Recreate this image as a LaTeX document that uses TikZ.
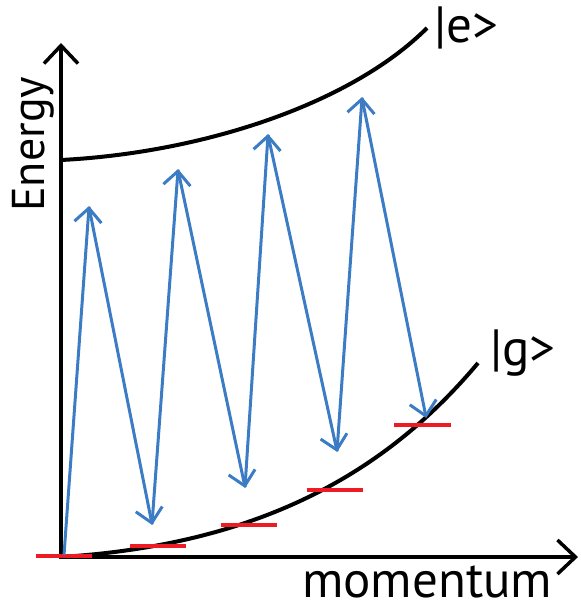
\documentclass[tikz,border=0pt]{standalone}
\usepackage{fontspec}
\setmainfont{PT Sans}
\usetikzlibrary{arrows.meta}
\definecolor{qblue}{RGB}{60,124,196}
\definecolor{qred}{RGB}{237,28,36}
\begin{document}
\begin{tikzpicture}[x=1pt,y=-1pt,
  axis/.style={line width=4pt,-{Straight Barb[length=18pt,width=34pt,line width=3.5pt]}},
  curve/.style={line width=4pt},
  trans/.style={qblue,line width=3pt,-{Straight Barb[length=14pt,width=27pt,line width=3pt]},shorten >=-1pt},
  level/.style={qred,line width=4.5pt},
  lbl/.style={inner sep=0pt,font=\fontsize{46}{50}\selectfont},
  biglbl/.style={inner sep=0pt,font=\fontsize{51}{55}\selectfont}]
\useasboundingbox (0,0) rectangle (580,609);
% axes
\coordinate (O) at (61,557);
\coordinate (Ytop) at (61,43);
\coordinate (Xend) at (578,557);
\draw[axis] ([yshift=-2pt]O) -- (Ytop);
\draw[axis] ([xshift=-2pt]O) -- (Xend);
% curves
\coordinate (e0) at (61,160);
\coordinate (e9) at (427,28);
\coordinate (g0s) at (61,557);
\coordinate (g9) at (478,363);
\draw[curve] (e0) .. controls (200,153) and (350,105) .. (e9);
\draw[curve] (g0s) .. controls (250,545) and (380,480) .. (g9);
% levels
\coordinate (l1a) at (36,556); \coordinate (l1b) at (92,556);
\coordinate (l2a) at (130,546); \coordinate (l2b) at (186,546);
\coordinate (l3a) at (221,525); \coordinate (l3b) at (277,525);
\coordinate (l4a) at (307,490); \coordinate (l4b) at (363,490);
\coordinate (l5a) at (394,425); \coordinate (l5b) at (451,425);
\foreach \i in {1,...,5} {\draw[level] (l\i a) -- (l\i b);}
% transitions
\coordinate (g0) at (64,555);
\coordinate (u1) at (89,207);
\coordinate (d1) at (152,524);
\coordinate (u2) at (178,170);
\coordinate (d2) at (245,487);
\coordinate (u3) at (268,135);
\coordinate (d3) at (337,451);
\coordinate (u4) at (362,98);
\coordinate (d4) at (426,417);
\draw[trans] (g0) -- (u1);
\draw[trans] (u1) -- (d1);
\draw[trans] (d1) -- (u2);
\draw[trans] (u2) -- (d2);
\draw[trans] (d2) -- (u3);
\draw[trans] (u3) -- (d3);
\draw[trans] (d3) -- (u4);
\draw[trans] (u4) -- (d4);
% labels
\node[lbl,anchor=base west,rotate=90] (en) at (44,212) {Energy};
\node[biglbl,anchor=base west] (mo) at (302,597) {momentum};
\node[biglbl,anchor=base west] (el) at (434,43) {|e>};
\node[biglbl,anchor=base west] (gl) at (490,365) {|g>};
\end{tikzpicture}
\end{document}
